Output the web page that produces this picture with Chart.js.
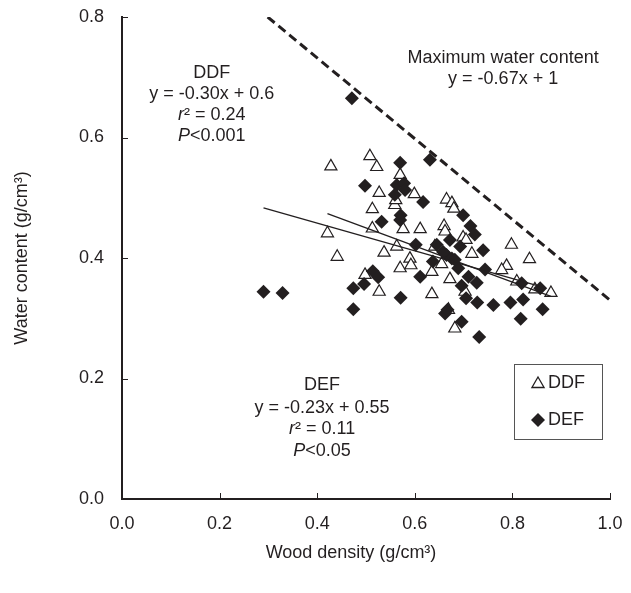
<!DOCTYPE html>
<html>
<head>
<meta charset="utf-8">
<script src="https://cdn.jsdelivr.net/npm/chart.js@4/dist/chart.umd.min.js"></script>
<style>
  html, body { margin: 0; padding: 0; background: #fff; }
  #wrap { width: 631px; height: 593px; position: relative; }
</style>
</head>
<body>
<div id="wrap"><canvas id="myCanvas"></canvas></div>
<script>
'use strict';

// data (wood density vs water content)
let ddfX = [0.421, 0.441, 0.428, 0.508, 0.522, 0.527, 0.513, 0.513, 0.537, 0.563, 0.498, 0.527, 0.570, 0.590, 0.592,
  0.576, 0.611, 0.599, 0.559, 0.570, 0.635, 0.635, 0.672, 0.665, 0.676, 0.680, 0.660, 0.662, 0.641, 0.699,
  0.705, 0.717, 0.655, 0.703, 0.682, 0.669, 0.798, 0.835, 0.788, 0.778, 0.809, 0.846, 0.879, 0.561];
let ddfY = [0.441, 0.402, 0.552, 0.569, 0.551, 0.508, 0.481, 0.449, 0.409, 0.419, 0.372, 0.344, 0.383, 0.399, 0.388,
  0.448, 0.448, 0.506, 0.488, 0.538, 0.377, 0.340, 0.365, 0.497, 0.491, 0.482, 0.453, 0.444, 0.419, 0.434,
  0.430, 0.407, 0.390, 0.344, 0.283, 0.314, 0.422, 0.398, 0.387, 0.380, 0.361, 0.348, 0.342, 0.496];
let defX = [0.290, 0.329, 0.474, 0.474, 0.496, 0.514, 0.525, 0.498, 0.532, 0.570, 0.563, 0.578, 0.580, 0.559, 0.571,
  0.570, 0.617, 0.631, 0.571, 0.611, 0.602, 0.637, 0.645, 0.665, 0.676, 0.672, 0.693, 0.699, 0.714, 0.723,
  0.740, 0.689, 0.710, 0.727, 0.696, 0.705, 0.728, 0.761, 0.662, 0.667, 0.696, 0.732, 0.744, 0.796, 0.822,
  0.817, 0.862, 0.819, 0.857, 0.658, 0.682, 0.471];
let defY = [0.344, 0.342, 0.315, 0.350, 0.357, 0.378, 0.368, 0.520, 0.460, 0.558, 0.521, 0.524, 0.513, 0.505, 0.471,
  0.463, 0.493, 0.563, 0.334, 0.369, 0.422, 0.394, 0.422, 0.405, 0.399, 0.430, 0.419, 0.471, 0.453, 0.439,
  0.413, 0.383, 0.369, 0.359, 0.354, 0.333, 0.326, 0.322, 0.308, 0.314, 0.294, 0.269, 0.381, 0.326, 0.331,
  0.299, 0.315, 0.358, 0.350, 0.410, 0.397, 0.665];

// fitted lines: [slope, intercept]
let ddfFit = [-0.30, 0.6];
let defFit = [-0.23, 0.55];
let maxFit = [-0.67, 1];

let xTicks = [0.0, 0.2, 0.4, 0.6, 0.8, 1.0];
let yTicks = [0.0, 0.2, 0.4, 0.6, 0.8];

const ink = '#231f20';
const fontName = '"Liberation Sans", Arial, sans-serif';

function toPoints(xs, ys) {
  let pts = [];
  for (let i = 0; i < xs.length; i++) {
    pts.push({x: xs[i], y: ys[i]});
  }
  return pts;
}

// line from the equation over the x range of the series
function fitLine(fit, xs) {
  let lo = Math.min(...xs);
  let hi = Math.max(...xs);
  return [{x: lo, y: fit[0] * lo + fit[1]}, {x: hi, y: fit[0] * hi + fit[1]}];
}

let yMax = yTicks[yTicks.length - 1];
let xMax = xTicks[xTicks.length - 1];
let maxStart = (yMax - maxFit[1]) / maxFit[0];
let maxLine = [{x: maxStart, y: yMax}, {x: xMax, y: maxFit[0] * xMax + maxFit[1]}];

// text notes, anchored in data units; r and P are italic
let notes = [
  {x: 0.184, y: 0.7076, parts: [['DDF']]},
  {x: 0.184, y: 0.6728, parts: [['y = -0.30x + 0.6']]},
  {x: 0.184, y: 0.6373, parts: [['r', true], ['² = 0.24']]},
  {x: 0.184, y: 0.602, parts: [['P', true], ['<0.001']]},
  {x: 0.781, y: 0.732, parts: [['Maximum water content']]},
  {x: 0.781, y: 0.697, parts: [['y = -0.67x + 1']]},
  {x: 0.41, y: 0.189, parts: [['DEF']]},
  {x: 0.41, y: 0.151, parts: [['y = -0.23x + 0.55']]},
  {x: 0.41, y: 0.116, parts: [['r', true], ['² = 0.11']]},
  {x: 0.41, y: 0.080, parts: [['P', true], ['<0.05']]}
];

function drawParts(ctx, parts, cx, cy) {
  let widths = [];
  let total = 0;
  for (let p of parts) {
    ctx.font = (p[1] ? 'italic ' : '') + '18px ' + fontName;
    let w = ctx.measureText(p[0]).width;
    widths.push(w);
    total += w;
  }
  let x = cx - total / 2;
  for (let i = 0; i < parts.length; i++) {
    ctx.font = (parts[i][1] ? 'italic ' : '') + '18px ' + fontName;
    ctx.fillText(parts[i][0], x, cy);
    x += widths[i];
  }
}

function triangle(ctx, x, y, r) {
  ctx.beginPath();
  ctx.moveTo(x, y - r);
  ctx.lineTo(x + r * 0.866, y + r * 0.5);
  ctx.lineTo(x - r * 0.866, y + r * 0.5);
  ctx.closePath();
  ctx.fillStyle = '#fff';
  ctx.fill();
  ctx.lineWidth = 1.3;
  ctx.strokeStyle = ink;
  ctx.stroke();
}

function diamond(ctx, x, y, r) {
  ctx.beginPath();
  ctx.moveTo(x, y - r);
  ctx.lineTo(x + r, y);
  ctx.lineTo(x, y + r);
  ctx.lineTo(x - r, y);
  ctx.closePath();
  ctx.fillStyle = ink;
  ctx.fill();
}

// inward tick marks, notes, axis titles and the boxed legend
const extras = {
  id: 'extras',
  afterDraw(chart) {
    const ctx = chart.ctx;
    const xs = chart.scales.x;
    const ys = chart.scales.y;
    const area = chart.chartArea;
    ctx.save();
    ctx.strokeStyle = ink;
    ctx.lineWidth = 1;
    for (let t of xTicks) {
      let px = Math.round(xs.getPixelForValue(t)) + 0.5;
      ctx.beginPath();
      ctx.moveTo(px, area.bottom);
      ctx.lineTo(px, area.bottom - 6);
      ctx.stroke();
    }
    for (let t of yTicks) {
      let py = Math.round(ys.getPixelForValue(t)) + 0.5;
      ctx.beginPath();
      ctx.moveTo(area.left, py);
      ctx.lineTo(area.left + 6, py);
      ctx.stroke();
    }

    ctx.fillStyle = ink;
    ctx.textBaseline = 'middle';
    ctx.textAlign = 'left';
    for (let n of notes) {
      drawParts(ctx, n.parts, xs.getPixelForValue(n.x), ys.getPixelForValue(n.y));
    }

    // axis titles
    ctx.font = '18px ' + fontName;
    ctx.textAlign = 'center';
    ctx.fillText('Wood density (g/cm³)', 351, 553);
    ctx.save();
    ctx.translate(22, 258);
    ctx.rotate(-Math.PI / 2);
    ctx.fillText('Water content (g/cm³)', 0, 0);
    ctx.restore();

    // legend box
    ctx.lineWidth = 1;
    ctx.strokeStyle = '#555';
    ctx.strokeRect(514.5, 364.5, 88, 75);
    triangle(ctx, 538, 384, 7);
    diamond(ctx, 538, 420, 7);
    ctx.fillStyle = ink;
    ctx.textAlign = 'left';
    ctx.font = '18px ' + fontName;
    ctx.fillText('DDF', 548, 383);
    ctx.fillText('DEF', 548, 420);
    ctx.restore();
  }
};

const data = {
  datasets: [
    {
      label: 'Maximum water content',
      data: maxLine,
      showLine: true,
      borderColor: ink,
      borderWidth: 3,
      borderDash: [9, 5],
      pointRadius: 0,
      order: 0
    },
    {
      label: 'DDF fit',
      data: fitLine(ddfFit, ddfX),
      showLine: true,
      borderColor: ink,
      borderWidth: 1.3,
      pointRadius: 0,
      order: 1
    },
    {
      label: 'DEF fit',
      data: fitLine(defFit, defX),
      showLine: true,
      borderColor: ink,
      borderWidth: 1.3,
      pointRadius: 0,
      order: 1
    },
    {
      label: 'DEF',
      data: toPoints(defX, defY),
      pointStyle: 'rectRot',
      pointRadius: 7,
      backgroundColor: ink,
      borderColor: ink,
      borderWidth: 0,
      order: 2
    },
    {
      label: 'DDF',
      data: toPoints(ddfX, ddfY),
      pointStyle: 'triangle',
      pointRadius: 7,
      backgroundColor: '#fff',
      borderColor: ink,
      borderWidth: 1.2,
      order: 3
    }
  ]
};

const config = {
  type: 'scatter',
  data: data,
  options: {
    responsive: true,
    maintainAspectRatio: false,
    animation: false,
    events: [],
    layout: {
      padding: {top: 17, right: 21, left: 0, bottom: 0}
    },
    plugins: {
      legend: {display: false},
      tooltip: {enabled: false}
    },
    scales: {
      x: {
        type: 'linear',
        min: 0,
        max: xMax,
        afterBuildTicks: (scale) => { scale.ticks = xTicks.map(v => ({value: v})); },
        afterFit: (scale) => {
          scale.height = 94;
          scale.paddingLeft = 0;
          scale.paddingRight = 0;
        },
        ticks: {
          callback: (v) => Number(v).toFixed(1),
          color: ink,
          font: {family: fontName, size: 18},
          padding: 14,
          maxRotation: 0
        },
        grid: {display: false, drawTicks: false},
        border: {display: true, color: ink, width: 2}
      },
      y: {
        type: 'linear',
        min: 0,
        max: yMax,
        afterBuildTicks: (scale) => { scale.ticks = yTicks.map(v => ({value: v})); },
        afterFit: (scale) => {
          scale.width = 122;
          scale.paddingTop = 0;
          scale.paddingBottom = 0;
        },
        ticks: {
          callback: (v) => Number(v).toFixed(1),
          color: ink,
          font: {family: fontName, size: 18},
          padding: 18
        },
        grid: {display: false, drawTicks: false},
        border: {display: true, color: ink, width: 2}
      }
    }
  },
  plugins: [extras]
};

const myChart = new Chart(document.getElementById('myCanvas'), config);
</script>
</body>
</html>
